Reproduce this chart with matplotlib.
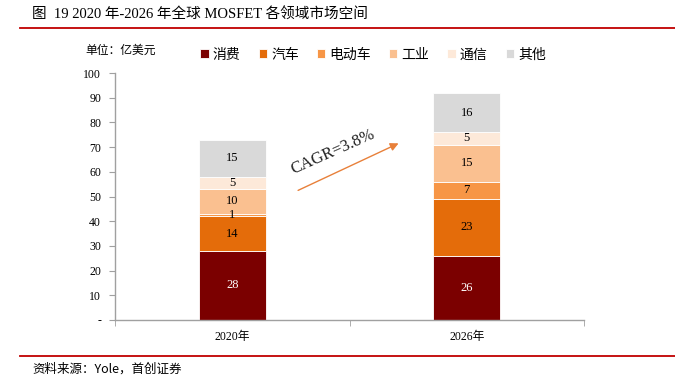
import matplotlib
matplotlib.use("Agg")
import matplotlib.pyplot as plt
import numpy as np

categories = ["2020年", "2026年"]
series_names = ["消费", "汽车", "电动车", "工业", "通信", "其他"]
consumer = [28, 26]
auto = [14, 23]
ev = [1, 7]
industry = [10, 15]
telecom = [5, 5]
other = [15, 16]
colors = ["#7B0000", "#E46C0A", "#F79646", "#FAC090", "#FDE9D9", "#D9D9D9"]
yticks = [0, 10, 20, 30, 40, 50, 60, 70, 80, 90, 100]
yticklabels = ["-", "10", "20", "30", "40", "50", "60", "70", "80", "90", "100"]

FAM = ["Liberation Serif", "Noto Sans CJK SC"]
CJK = ["Noto Sans CJK SC", "DejaVu Sans"]

fig = plt.figure(figsize=(6.75, 3.77), dpi=100)
ax = fig.add_axes([115/675, 1-320/377, (584-115)/675, (320-73)/377])

x = np.arange(len(categories))
bottom = np.zeros(len(categories))
data = [consumer, auto, ev, industry, telecom, other]
for name, vals, c in zip(series_names, data, colors):
    vals = np.array(vals, dtype=float)
    ax.bar(x, vals, 0.285, bottom=bottom, color=c, edgecolor="white", linewidth=0.6, label=name)
    for xi, v, b in zip(x, vals, bottom):
        tc = "white" if c == "#7B0000" else "black"
        ax.text(xi, b + v/2, f"{int(v)}", ha="center", va="center", fontsize=9,
                color=tc, family=FAM)
    bottom += vals

ax.set_xlim(-0.5, 1.5)
ax.set_ylim(0, 100)
ax.set_yticks(yticks)
ax.set_yticklabels(yticklabels, family=FAM, fontsize=8.5)
ax.set_xticks(x)
ax.set_xticklabels(categories, family=FAM, fontsize=8.5)
ax.tick_params(axis="x", which="major", length=0, pad=8)
ax.set_xticks([-0.5, 0.5, 1.5], minor=True)
ax.tick_params(axis="x", which="minor", length=4, color="#A0A0A0")
ax.tick_params(axis="y", length=4, color="#A0A0A0", pad=6)
for s in ["top", "right"]:
    ax.spines[s].set_visible(False)
for s in ["left", "bottom"]:
    ax.spines[s].set_color("#A0A0A0")
    ax.spines[s].set_linewidth(1.0)

# legend
leg = ax.legend(loc="upper left", bbox_to_anchor=(0.17, 1.125), ncol=6, frameon=False,
                prop={"family": CJK, "size": 10}, handlelength=0.6, handleheight=0.6,
                handletextpad=0.3, columnspacing=1.3, borderaxespad=0)

# arrow and CAGR
ax.annotate("", xy=(0.72, 72), xytext=(0.27, 52),
            arrowprops=dict(arrowstyle="-|>", color="#E8803A", lw=1.0, mutation_scale=12))
ax.text(0.43, 68, "CAGR=3.8%", rotation=24, ha="center", va="center", fontsize=12,
        family=FAM, color="#222222")

# unit
fig.text(85/675, 1-50/377, "单位：亿美元", family=CJK, fontsize=8.5, ha="left", va="center")

# title
fig.text(32/675, 1-15/377, "图  19 2020 年-2026 年全球 MOSFET 各领域市场空间", family=FAM,
         fontsize=10.5, ha="left", va="center", weight="normal")
fig.add_artist(plt.Line2D([20/675, 1.0], [1-28/377, 1-28/377], color="#C00000", lw=1.3,
                          transform=fig.transFigure))
# footer
fig.add_artist(plt.Line2D([20/675, 1.0], [1-356/377, 1-356/377], color="#C00000", lw=1.3,
                          transform=fig.transFigure))
fig.text(32/675, 1-369/377, "资料来源：Yole，首创证券", family=CJK, fontsize=9, style="italic",
         ha="left", va="center")

fig.savefig("out.png", dpi=100)
